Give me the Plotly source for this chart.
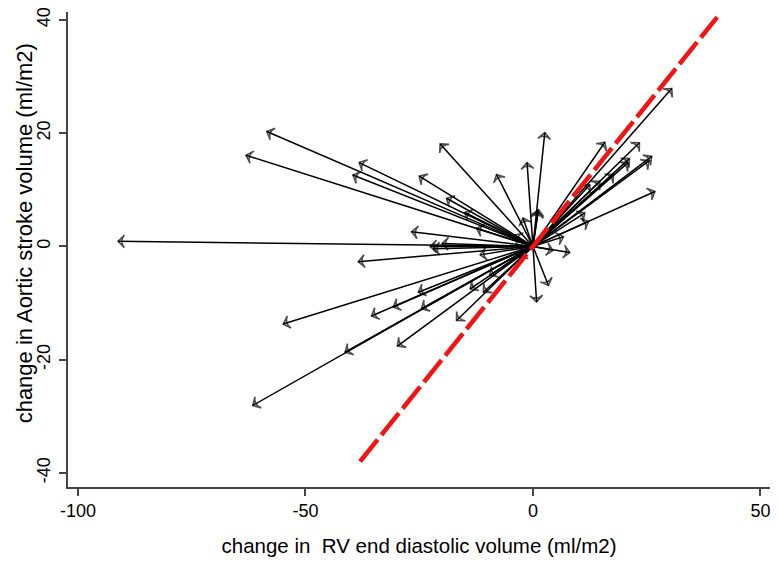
import plotly.graph_objects as go

# change from baseline, one arrow per subject (start at 0,0)
rvEdvChange = [-91.2, -63.1, -58.5, -38.2, -39.6, -20.4, -25.0, -19.0, -8.0, -1.3,
               2.6, -26.7, -22.6, -20.0, -12.4, -2.2, 1.1, 30.5, 15.8, 23.4,
               26.1, 25.5, 21.2, 17.7, 14.7, 26.8, 12.2, 6.7, 8.1, 4.4,
               3.4, 0.8, 1.2, 11.4, -38.4, -54.9, -35.5, -30.7, -29.8, -41.3,
               -61.6, -21.9, -11.6, -24.5, -25.2, -16.8, -13.8, -10.9, -9.5, 20.9,
               -15.0, -4.0, 12.5, -3.0]
aoSvChange = [0.9, 16.1, 20.3, 14.8, 12.6, 18.1, 12.4, 8.5, 12.7, 14.8,
              20.1, 2.6, 0.0, 0.5, 3.2, 5.0, 6.2, 27.9, 18.4, 18.3,
              15.9, 15.1, 15.5, 12.7, 11.5, 9.7, 4.4, 1.7, -1.1, -0.7,
              -6.9, -9.8, 6.5, 5.9, -2.7, -13.7, -12.3, -10.7, -17.6, -18.7,
              -28.1, -0.4, -1.5, -11.0, -8.1, -13.1, -7.5, -8.1, -5.1, 14.8,
              6.0, 2.0, 10.9, -2.0]

# line of identity
identityX = [-38, 40.5]
identityY = [-38, 40.5]

xTicks = [-100, -50, 0, 50]
xTickText = ['-100', '-50', '0', '50']
yTicks = [-40, -20, 0, 20, 40]
yTickText = ['-40', '-20', '0', '20', '40']

fig = go.Figure()

# build one trace of segments, marker only on the tip
segX, segY, segSize = [], [], []
for ex, ey in zip(rvEdvChange, aoSvChange):
    segX += [0, ex, None]
    segY += [0, ey, None]
    segSize += [0, 9, 0]

fig.add_trace(go.Scatter(
    x=segX, y=segY, mode='lines+markers',
    line=dict(color='black', width=1.5),
    marker=dict(symbol='arrow-wide-open', size=segSize, angleref='previous',
                color='black', line=dict(color='black', width=1.6)),
    hoverinfo='skip', showlegend=False))

fig.add_trace(go.Scatter(
    x=identityX, y=identityY, mode='lines',
    line=dict(color='#f21414', width=4.5, dash='28px,6px'),
    hoverinfo='skip', showlegend=False))

axisFont = dict(family='Liberation Sans, Arial, sans-serif', size=18, color='black')

# the page body adds 8px margin, so margins are trimmed by 8 on left/top
fig.update_layout(
    width=778, height=563,
    margin=dict(l=60, r=16, t=4, b=84),
    paper_bgcolor='white', plot_bgcolor='white',
    font=axisFont,
    xaxis=dict(range=[-102.2, 52.1], tickvals=xTicks, ticktext=xTickText,
               showgrid=False, zeroline=False,
               showline=True, linecolor='#444', linewidth=1.5, automargin=False,
               ticks='outside', ticklen=7, tickcolor='#444', tickwidth=1.5,
               ticklabelstandoff=0, ticklabeloverflow='allow',
               title=dict(text='change in\u00a0 RV end diastolic volume (ml/m2)',
                          font=dict(size=20.5), standoff=18)),
    yaxis=dict(range=[-42.5, 41.4], tickvals=yTicks, ticktext=yTickText,
               showgrid=False, zeroline=False,
               showline=True, linecolor='#444', linewidth=1.5, automargin=False,
               ticks='outside', ticklen=7, tickcolor='#444', tickwidth=1.5,
               tickangle=-90, ticklabelstandoff=2, ticklabeloverflow='allow'),
    annotations=[dict(text='change in Aortic stroke volume (ml/m2)',
                      xref='paper', yref='paper', x=-0.062, y=0.535,
                      xanchor='center', yanchor='middle', textangle=-90,
                      showarrow=False, font=dict(size=22))],
)

fig.write_html("out.html")
